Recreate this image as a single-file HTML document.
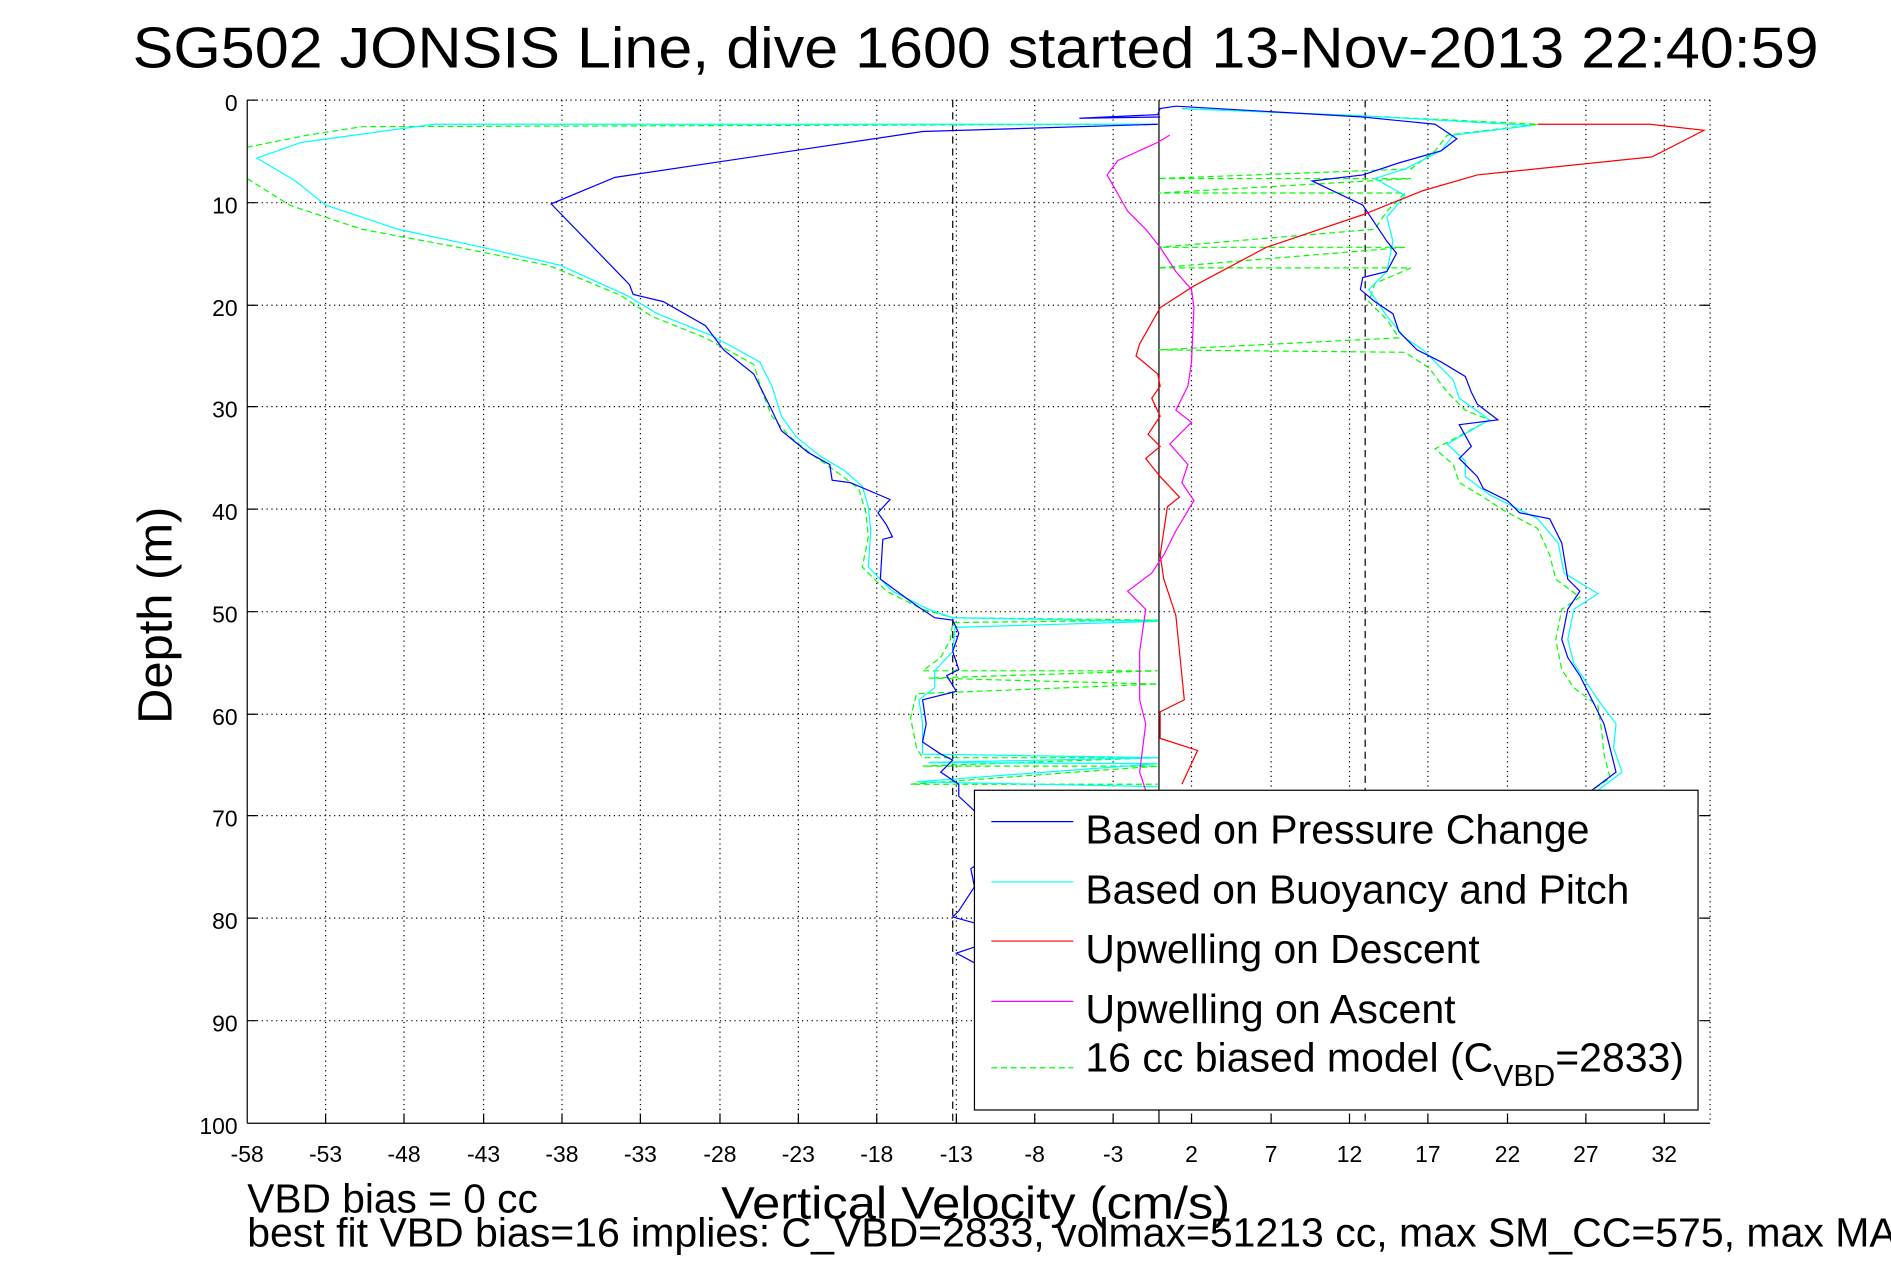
<!DOCTYPE html>
<html><head><meta charset="utf-8"><style>html,body{margin:0;padding:0;background:#fff;overflow:hidden}svg{display:block}</style></head>
<body>
<svg width="1891" height="1262" viewBox="0 0 1568 1046" preserveAspectRatio="none" xmlns="http://www.w3.org/2000/svg" font-family="Liberation Sans, sans-serif">
<rect width="1568" height="1046" fill="#fff"/>
<text x="110" y="56" font-size="48" textLength="1398" lengthAdjust="spacingAndGlyphs">SG502 JONSIS Line, dive 1600 started 13-Nov-2013 22:40:59</text>
<g id="grid" stroke="#000" stroke-width="1" stroke-dasharray="1,3">
<line x1="270" y1="83" x2="270" y2="931"/><line x1="335" y1="83" x2="335" y2="931"/><line x1="401" y1="83" x2="401" y2="931"/><line x1="466" y1="83" x2="466" y2="931"/><line x1="531" y1="83" x2="531" y2="931"/><line x1="597" y1="83" x2="597" y2="931"/><line x1="662" y1="83" x2="662" y2="931"/><line x1="727" y1="83" x2="727" y2="931"/><line x1="793" y1="83" x2="793" y2="931"/><line x1="858" y1="83" x2="858" y2="931"/><line x1="923" y1="83" x2="923" y2="931"/><line x1="988" y1="83" x2="988" y2="931"/><line x1="1054" y1="83" x2="1054" y2="931"/><line x1="1119" y1="83" x2="1119" y2="931"/><line x1="1184" y1="83" x2="1184" y2="931"/><line x1="1250" y1="83" x2="1250" y2="931"/><line x1="1315" y1="83" x2="1315" y2="931"/><line x1="1380" y1="83" x2="1380" y2="931"/>
<line x1="205" y1="168" x2="1418" y2="168"/><line x1="205" y1="253" x2="1418" y2="253"/><line x1="205" y1="337" x2="1418" y2="337"/><line x1="205" y1="422" x2="1418" y2="422"/><line x1="205" y1="507" x2="1418" y2="507"/><line x1="205" y1="592" x2="1418" y2="592"/><line x1="205" y1="676" x2="1418" y2="676"/><line x1="205" y1="761" x2="1418" y2="761"/><line x1="205" y1="846" x2="1418" y2="846"/>
<line x1="205" y1="83" x2="1418" y2="83"/><line x1="1418" y1="83" x2="1418" y2="931"/>
</g>
<line x1="790" y1="83" x2="790" y2="931" stroke="#000" stroke-dasharray="6,4"/>
<line x1="1132" y1="83" x2="1132" y2="931" stroke="#000" stroke-dasharray="6,4"/>
<line x1="961" y1="83" x2="961" y2="931" stroke="#000"/>
<g fill="none" stroke-width="1">
<polyline stroke="#00ff00" stroke-dasharray="5,3" points="960,103 300,105 255,112 205,122"/>
<polyline stroke="#00ff00" stroke-dasharray="5,3" points="205,148 240,170 300,190 380,205 455,220 515,245 540,262 585,280 625,302 632,325 640,345 655,362 675,378 695,392 712,405 718,425 720,445 715,470 735,490 765,505 790,512 960,514 790,516 788,530 780,545 765,556 960,556 770,562 960,567 760,575 755,595 760,620 765,628 960,628 765,635 960,635 755,650 960,650"/>
<polyline stroke="#00ff00" stroke-dasharray="5,3" points="980,90 1130,96 1275,103 1200,112 1190,125 1170,140 960,148 1170,148 960,160 1165,160 1150,175 1140,190 960,205 1165,205 960,222 1170,222 1140,235 1135,250 1150,265 1160,280 960,290 1165,292 1185,305 1200,325 1215,340 1235,348 1190,372 1205,385 1210,400 1230,412 1245,422 1275,438 1285,460 1290,480 1310,495 1295,505 1290,530 1295,555 1305,570 1325,585 1328,605 1330,625 1335,645 1320,655"/>
<polyline stroke="#00ffff" points="960,103 360,103 250,118 213,131 245,150 270,170 330,190 400,205 465,220 520,245 545,260 590,278 630,300 640,320 648,345 660,362 680,378 700,390 715,403 720,420 722,440 720,470 740,490 770,505 790,512 960,515 792,520 790,540 775,556 775,570 762,580 765,600 765,625 960,628 770,632 960,633 760,648 960,652"/>
<polyline stroke="#00ffff" points="980,90 1130,96 1270,104 1205,112 1195,125 1165,140 1140,148 1165,162 1150,180 1155,200 1150,225 1135,240 1150,262 1165,280 1180,290 1190,300 1205,315 1210,330 1235,348 1200,368 1215,382 1215,395 1235,410 1255,420 1275,430 1292,450 1297,475 1325,492 1305,505 1300,530 1305,550 1315,565 1325,580 1340,600 1338,620 1345,640 1325,655"/>
<polyline stroke="#0000ff" points="960,103 765,109 510,147 457,169 493,206 522,236 525,244 550,250 585,270 600,290 625,310 640,340 648,357 670,375 688,385 690,398 705,400 738,414 728,425 735,435 740,445 732,447 730,480 760,502 775,512 790,514 795,525 790,540 795,555 785,560 793,573 765,580 768,600 765,615 780,625 790,630 780,640 795,650 795,660 808,672"/>
<polyline stroke="#0000ff" points="962,97 895,98 960,95 962,90 975,88 1130,97 1190,103 1208,115 1195,125 1160,135 1130,145 1088,150 1130,170 1140,185 1150,200 1158,210 1150,225 1130,230 1128,240 1140,250 1155,260 1160,275 1170,285 1175,290 1195,300 1215,312 1220,325 1225,335 1242,348 1210,352 1220,370 1210,380 1225,395 1230,405 1250,415 1260,425 1285,430 1295,450 1300,480 1310,490 1300,505 1295,530 1300,545 1310,560 1320,580 1330,600 1335,620 1340,640 1320,655"/>
<polyline stroke="#0000ff" points="808,718 805,720 808,735 795,755 790,760 808,765"/>
<polyline stroke="#0000ff" points="808,785 793,790 808,798"/>
<polyline stroke="#ff0000" points="1275,103 1368,103 1413,108 1370,130 1225,145 1180,158 1130,178 1050,205 990,237 962,255 945,285 942,295 960,310 962,320 955,330 962,345 952,360 962,370 950,380 962,395 978,412 968,420 965,440 962,460 965,480 975,510 982,580 962,590 962,612 993,622 980,650"/>
<polyline stroke="#ff00ff" points="970,112 960,118 927,133 918,145 935,175 950,190 962,205 975,225 988,240 990,255 988,300 985,320 975,340 988,350 970,368 985,385 980,400 990,415 975,440 965,460 955,475 935,490 950,505 945,540 945,580 950,600 945,640 950,655"/>
</g>
<g stroke="#000" stroke-width="1">
<line x1="205" y1="83" x2="205" y2="931"/><line x1="205" y1="931" x2="1418" y2="931"/>
<path d="M205,83h8M205,168h8M205,253h8M205,337h8M205,422h8M205,507h8M205,592h8M205,676h8M205,761h8M205,846h8M1418,168h-8M1418,253h-8M1418,337h-8M1418,422h-8M1418,507h-8M1418,592h-8M1418,676h-8M1418,761h-8M1418,846h-8"/>
<path d="M270,931v-8M335,931v-8M401,931v-8M466,931v-8M531,931v-8M597,931v-8M662,931v-8M727,931v-8M793,931v-8M858,931v-8M923,931v-8M988,931v-8M1054,931v-8M1119,931v-8M1184,931v-8M1250,931v-8M1315,931v-8M1380,931v-8"/>
</g>
<g font-size="19" text-anchor="end">
<text x="197" y="92">0</text><text x="197" y="177">10</text><text x="197" y="262">20</text><text x="197" y="346">30</text><text x="197" y="431">40</text><text x="197" y="516">50</text><text x="197" y="601">60</text><text x="197" y="685">70</text><text x="197" y="770">80</text><text x="197" y="855">90</text><text x="197" y="940">100</text>
</g>
<g font-size="19" text-anchor="middle">
<text x="205" y="963">-58</text><text x="270" y="963">-53</text><text x="335" y="963">-48</text><text x="401" y="963">-43</text><text x="466" y="963">-38</text><text x="531" y="963">-33</text><text x="597" y="963">-28</text><text x="662" y="963">-23</text><text x="727" y="963">-18</text><text x="793" y="963">-13</text><text x="858" y="963">-8</text><text x="923" y="963">-3</text><text x="988" y="963">2</text><text x="1054" y="963">7</text><text x="1119" y="963">12</text><text x="1184" y="963">17</text><text x="1250" y="963">22</text><text x="1315" y="963">27</text><text x="1380" y="963">32</text>
</g>
<text transform="translate(142,510) rotate(-90)" font-size="40" text-anchor="middle" textLength="180" lengthAdjust="spacingAndGlyphs">Depth (m)</text>
<text x="598" y="1010" font-size="38" textLength="422" lengthAdjust="spacingAndGlyphs">Vertical Velocity (cm/s)</text>
<text x="205" y="1005" font-size="34" textLength="241" lengthAdjust="spacingAndGlyphs">VBD bias = 0 cc</text>
<text x="205" y="1033" font-size="34">best fit VBD bias=16 implies: C_VBD=2833, volmax=51213 cc, max SM_CC=575, max MAX_BUOY=0</text>
<rect x="808" y="655" width="600" height="265" fill="#fff" stroke="#000"/>
<g stroke-width="1">
<line x1="822" y1="681" x2="890" y2="681" stroke="#0000ff"/>
<line x1="822" y1="731" x2="890" y2="731" stroke="#00ffff"/>
<line x1="822" y1="780" x2="890" y2="780" stroke="#ff0000"/>
<line x1="822" y1="830" x2="890" y2="830" stroke="#ff00ff"/>
<line x1="822" y1="885" x2="890" y2="885" stroke="#00ff00" stroke-dasharray="5,3"/>
</g>
<g font-size="34">
<text x="900" y="699" textLength="418" lengthAdjust="spacingAndGlyphs">Based on Pressure Change</text>
<text x="900" y="749" textLength="451" lengthAdjust="spacingAndGlyphs">Based on Buoyancy and Pitch</text>
<text x="900" y="798" textLength="327" lengthAdjust="spacingAndGlyphs">Upwelling on Descent</text>
<text x="900" y="848" textLength="307" lengthAdjust="spacingAndGlyphs">Upwelling on Ascent</text>
<text x="900" y="888">16 cc biased model (C<tspan font-size="25" dy="12">VBD</tspan><tspan dy="-12">=2833)</tspan></text>
</g>
</svg>
</body></html>
